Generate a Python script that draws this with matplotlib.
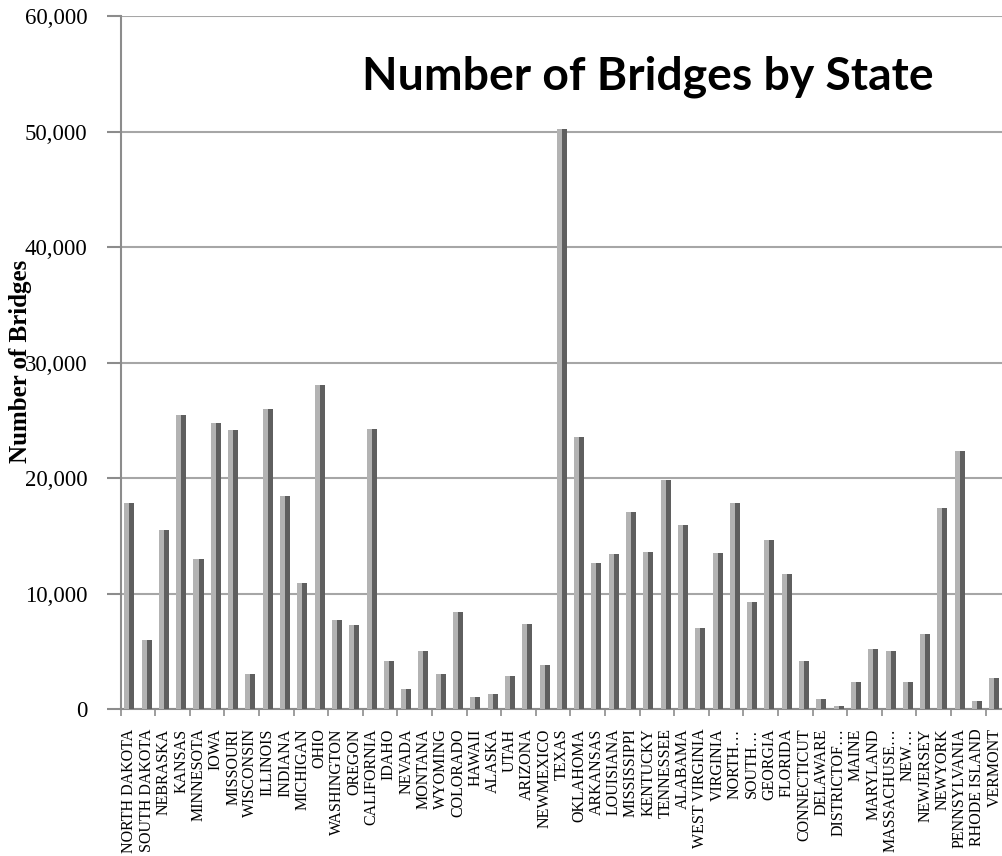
import numpy as np
import matplotlib
matplotlib.use("Agg")
import matplotlib.pyplot as plt

states = [
    "NORTH DAKOTA", "SOUTH DAKOTA", "NEBRASKA", "KANSAS", "MINNESOTA", "IOWA",
    "MISSOURI", "WISCONSIN", "ILLINOIS", "INDIANA", "MICHIGAN", "OHIO",
    "WASHINGTON", "OREGON", "CALIFORNIA", "IDAHO", "NEVADA", "MONTANA",
    "WYOMING", "COLORADO", "HAWAII", "ALASKA", "UTAH", "ARIZONA",
    "NEWMEXICO", "TEXAS", "OKLAHOMA", "ARKANSAS", "LOUISIANA", "MISSISSIPPI",
    "KENTUCKY", "TENNESSEE", "ALABAMA", "WEST VIRGINIA", "VIRGINIA", "NORTH…",
    "SOUTH…", "GEORGIA", "FLORIDA", "CONNECTICUT", "DELAWARE", "DISTRICTOF…",
    "MAINE", "MARYLAND", "MASSACHUSE…", "NEW…", "NEWJERSEY", "NEWYORK",
    "PENNSYLVANIA", "RHODE ISLAND", "VERMONT",
]

bridges = [
    17810, 5950, 15470, 25450, 13020, 24790,
    24130, 3030, 26000, 18470, 10910, 28020,
    7700, 7250, 24210, 4130, 1700, 5020,
    3030, 8370, 1010, 1270, 2830, 7360,
    3810, 50220, 23550, 12610, 13390, 17030,
    13560, 19800, 15900, 7040, 13480, 17810,
    9240, 14600, 11690, 4130, 840, 260,
    2370, 5170, 5050, 2370, 6460, 17370,
    22340, 690, 2710,
]

yticks = [0, 10000, 20000, 30000, 40000, 50000, 60000]

fig = plt.figure(figsize=(10.03, 8.56), dpi=100)
ax = fig.add_axes([0.1203, 0.1717, 0.8797, 0.8096])

x = np.arange(len(states))
w = 0.58
# two-tone bars: light left half, dark right half
ax.bar(x - w / 4, bridges, width=w / 2, color="#b3b3b3", zorder=3)
ax.bar(x + w / 4, bridges, width=w / 2, color="#5f5f5f", zorder=3)

ax.set_xlim(-0.5, len(states) - 0.5)
ax.set_ylim(0, 60000)
ax.set_yticks(yticks)
ax.set_yticklabels([f"{v:,}" for v in yticks], fontfamily="Liberation Serif", fontsize=16.5)
ax.yaxis.grid(True, color="#a6a6a6", linewidth=1.5, zorder=0)

ax.set_xticks(x)
ax.set_xticklabels(states, rotation=90, fontfamily="Liberation Serif", fontsize=11.5)
ax.set_xticks(np.arange(-0.5, len(states), 2), minor=True)
ax.tick_params(axis="x", which="major", length=0, pad=14)
ax.tick_params(axis="x", which="minor", length=5, color="#8c8c8c", width=1.2)
ax.tick_params(axis="y", length=10, color="#8c8c8c", width=1.5, pad=14)

for side in ["top", "right"]:
    ax.spines[side].set_visible(False)
for side in ["left", "bottom"]:
    ax.spines[side].set_color("#8c8c8c")
    ax.spines[side].set_linewidth(1.5)

fig.text(0.6455, 1 - 89 / 856, "Number of Bridges by State", ha="center", va="baseline",
         fontfamily="Lato", fontweight="bold", fontsize=33.3)
fig.text(21 / 1003, 1 - 361 / 856, "Number of Bridges", rotation=90, ha="center", va="center",
         fontfamily="Liberation Serif", fontweight="bold", fontsize=18)

fig.savefig("out.png", dpi=100)
